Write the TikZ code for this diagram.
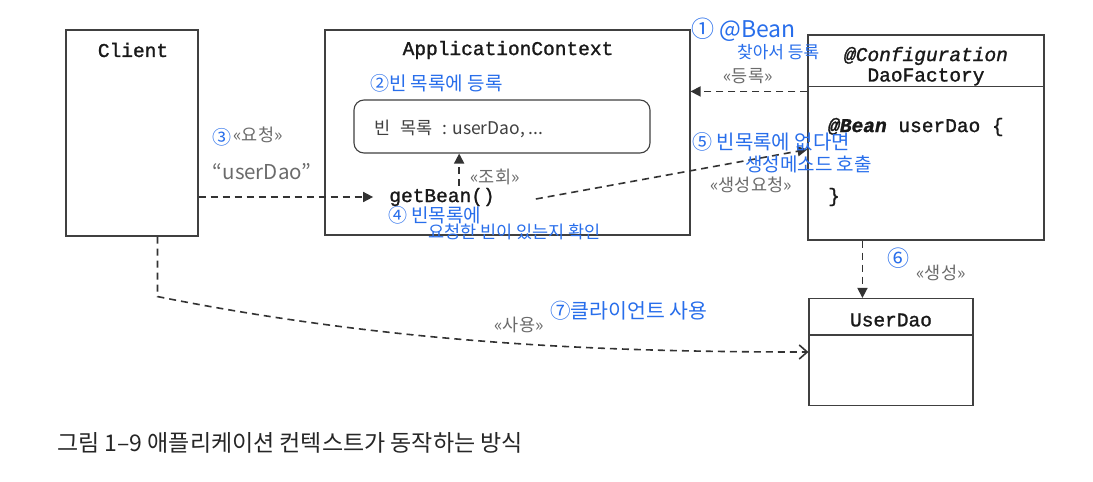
\documentclass[tikz,border=0pt]{standalone}
\usepackage{fontspec}
\setmonofont{Liberation Mono}
\newfontfamily\mymono[FakeBold=1.3]{Liberation Mono}
\newfontfamily\kr{Noto Sans CJK KR}
\usetikzlibrary{arrows.meta,calc}
\definecolor{pen}{RGB}{40,110,235}
\definecolor{lblc}{gray}{0.42}
\definecolor{edge}{gray}{0.25}
\begin{document}
\begin{tikzpicture}[x=1pt,y=-1pt,
  box/.style={draw=edge, line width=1.1pt, inner sep=0pt},
  mono/.style={font=\fontsize{19.5}{22}\selectfont\mymono, text=black!90, inner sep=0pt},
  lbl/.style={font=\kr\fontsize{17.5}{20}\selectfont, text=lblc, inner sep=0pt},
  pen/.style={font=\kr\fontsize{19}{22}\selectfont, text=pen, inner sep=0pt},
  dline/.style={draw=black!80, line width=1.6pt, dash pattern=on 7pt off 5pt},
  tri/.style={-{Triangle[length=10pt,width=10pt]}},
  opn/.style={-{Straight Barb[length=8pt,width=14pt,line width=1.6pt]}}]
\fill[white] (0,0) rectangle (1093,482);
\useasboundingbox (0,0) rectangle (1093,482);

% boxes
\node[box, minimum width=132pt, minimum height=206pt] (client) at (132,133) {};
\node[box, minimum width=365pt, minimum height=205pt] (ac) at (507.5,132.5) {};
\node[box, rounded corners=10pt, minimum width=296pt, minimum height=53pt] (bl) at (502,126.5) {};
\node[box, minimum width=236pt, minimum height=205pt] (df) at (926,137.5) {};
\node[box, minimum width=164pt, minimum height=107pt] (ud) at (891,352) {};
\draw[edge, line width=1.1pt] ($(df.north west)+(0,52)$) -- ($(df.north east)+(0,52)$);
\draw[edge, line width=1.1pt] ($(ud.north west)+(0,37)$) -- ($(ud.north east)+(0,37)$);

% box texts
\node[mono] (clientT) at (133,50) {Client};
\node[mono, font=\fontsize{19.5}{22}\selectfont\mymono\itshape] (cfg) at (926,56) {@Configuration};
\node[mono] (acT) at (508,50) {ApplicationContext};
\node[mono] (dfT) at (926,77) {DaoFactory};
\node[mono, anchor=west] (bean) at (828,127) {\textbf{\textit{@Bean}} userDao \{};
\node[mono, anchor=west] (brace) at (828,197) {\}};
\node[mono] (udT) at (891,320) {UserDao};
\node[font=\kr\fontsize{17.5}{20}\selectfont, text=black!75, anchor=west, inner sep=0pt] (blT) at (374,129) {빈\hspace{6pt} 목록\hspace{6pt} : userDao, ...};
\node[mono] (gb) at (442,197) {getBean()};

% connectors
\draw[dline,tri] (client.east |- gb) -- ($(gb.west)+(-16,0)$);
\coordinate (gbup) at ($(gb.north west)+(70,-2)$);
\draw[dline,tri] (gbup) -- (gbup |- bl.south);
\coordinate (gbr) at ($(gb.east)+(41,2)$);
\draw[dline,tri] (gbr) -- ($(df.north west)+(0,115)$);
\coordinate (dfr) at ($(df.north west)+(0,57)$);
\draw[dline,tri] (dfr) -- (dfr -| ac.east);
\coordinate (dfb) at ($(df.south west)+(55,0)$);
\draw[dline,tri] (dfb) -- (dfb |- ud.north);
\coordinate (cb) at ($(client.south west)+(92,0)$);
\coordinate (cbend) at ($(cb)+(0,60)$);
\draw[dline,opn] (cb) -- (cbend) .. controls ($(cbend)+(240,48)$) and ($(ud.west)+(-200,0)$) .. (ud.west);

% labels
\node[lbl] (l1) at (748,76) {«등록»};
\node[lbl] (l2) at (495,177) {«조회»};
\node[lbl] (l3) at (751,185) {«생성요청»};
\node[lbl] (l4) at (941,273) {«생성»};
\node[lbl] (l5) at (519,325) {«사용»};
\node[lbl] (l6) at (258,135) {«요청»};
\node[lbl, font=\kr\fontsize{20.5}{24}\selectfont] (l7) at (262,172) {“userDao”};

% handwritten annotations
\node[pen, anchor=west, font=\kr\fontsize{23}{26}\selectfont] (a1) at (691,30) {① @Bean};
\node[pen, anchor=west, font=\kr\fontsize{17}{20}\selectfont] (a1b) at (737,52) {찾아서 등록};
\node[pen, anchor=west] (a2) at (370,83) {②빈 목록에 등록};
\node[pen] (a3) at (222,137) {③};
\node[pen, anchor=west] (a4) at (388,215) {④ 빈목록에};
\node[pen, anchor=west, font=\kr\fontsize{17.5}{20}\selectfont] (a4b) at (428,232) {요청한 빈이 있는지 확인};
\node[pen, anchor=west, font=\kr\fontsize{20}{23}\selectfont] (a5) at (692,142) {⑤ 빈목록에 없다면};
\node[pen, anchor=west] (a5b) at (745,164) {생성메소드 호출};
\node[pen, font=\kr\fontsize{22}{25}\selectfont] (a6) at (898,258) {⑥};
\node[pen, anchor=west, font=\kr\fontsize{20.5}{24}\selectfont] (a7) at (550,311) {⑦클라이언트 사용};

% caption
\node[font=\kr\fontsize{23}{27}\selectfont, text=black!85, anchor=west, inner sep=0pt] (cap) at (57,443) {그림 1–9 애플리케이션 컨텍스트가 동작하는 방식};
\end{tikzpicture}
\end{document}
